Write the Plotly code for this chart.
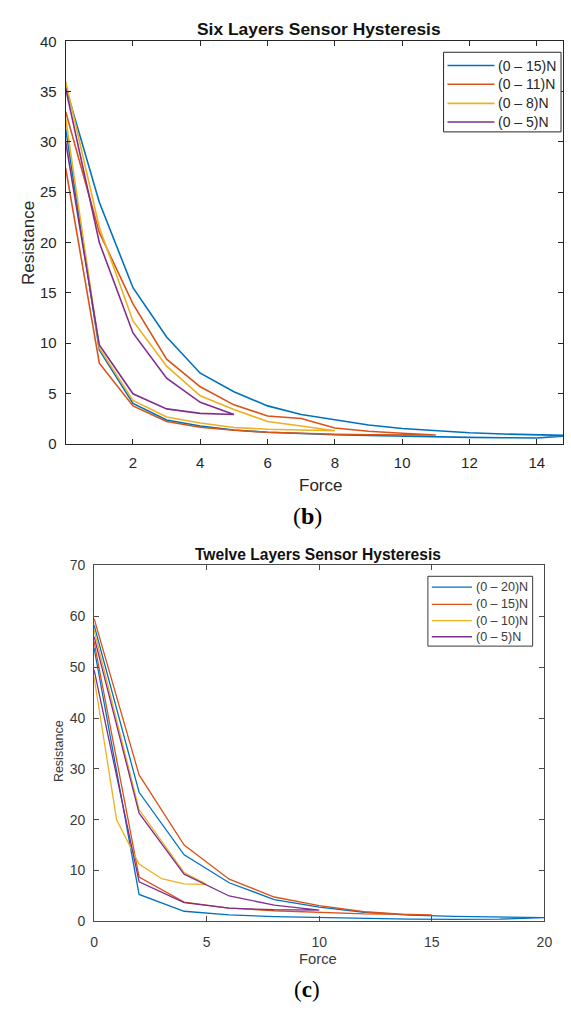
import plotly.graph_objects as go

W, H = 571, 1012

# ---- Six layers sensor: force (N) and resistance along each loading/unloading loop
six_labels = ["(0 – 15)N", "(0 – 11)N", "(0 – 8)N", "(0 – 5)N"]
six_force_15 = list(range(0, 16)) + list(range(14, -1, -1))
six_res_15 = [31.3, 9.3, 4.0, 2.35, 1.75, 1.35, 1.12, 0.98, 0.88, 0.8, 0.72, 0.66, 0.62, 0.58, 0.55, 0.8,
              0.86, 0.95, 1.07, 1.28, 1.5, 1.85, 2.35, 2.9, 3.75, 5.15, 7.0, 10.6, 15.5, 24.0, 35.5]
six_force_11 = list(range(0, 12)) + list(range(10, -1, -1))
six_res_11 = [27.4, 8.0, 3.75, 2.2, 1.62, 1.32, 1.12, 1.0, 0.93, 0.88, 0.85, 0.85,
              1.02, 1.22, 1.55, 2.5, 2.75, 3.85, 5.65, 8.4, 13.9, 21.0, 33.0]
six_force_8 = list(range(0, 9)) + list(range(7, -1, -1))
six_res_8 = [32.3, 9.5, 4.3, 2.65, 2.05, 1.6, 1.42, 1.32, 1.27,
             1.75, 2.2, 3.4, 4.75, 7.7, 12.2, 21.5, 36.0]
six_force_5 = list(range(0, 6)) + list(range(4, -1, -1))
six_res_5 = [30.0, 9.8, 4.95, 3.45, 3.0, 2.9,
             4.1, 6.5, 11.0, 20.0, 35.3]

# ---- Twelve layers sensor
twelve_labels = ["(0 – 20)N", "(0 – 15)N", "(0 – 10)N", "(0 – 5)N"]
twelve_force_20 = list(range(0, 21, 2)) + list(range(18, -1, -2))
twelve_res_20 = [53.8, 5.3, 2.0, 1.3, 0.95, 0.75, 0.6, 0.45, 0.4, 0.45, 0.75,
                 0.85, 1.0, 1.25, 1.8, 2.8, 4.3, 7.6, 13.1, 25.4, 58.3]
twelve_force_15 = [0, 2, 4, 6, 8, 10, 12, 14, 15, 14, 12, 10, 8, 6, 4, 2, 0]
twelve_res_15 = [55.0, 8.7, 3.8, 2.6, 2.1, 1.75, 1.5, 1.4, 1.3,
                 1.35, 1.9, 3.1, 4.8, 8.3, 15.0, 28.8, 59.6]
twelve_force_10 = [0, 1, 2, 3, 4, 5, 4, 2, 0]
twelve_res_10 = [48.0, 20.0, 11.3, 8.4, 7.4, 7.3, 9.6, 22.0, 57.3]
twelve_force_5 = [0, 2, 4, 6, 8, 10, 8, 6, 4, 2, 0]
twelve_res_5 = [49.5, 7.8, 3.7, 2.6, 2.3, 2.2, 3.2, 5.0, 9.3, 21.3, 56.0]

colors = ["#0072BD", "#D95319", "#EDB120", "#7E2F8E"]

six_series = [(six_force_15, six_res_15), (six_force_11, six_res_11),
              (six_force_8, six_res_8), (six_force_5, six_res_5)]
twelve_series = [(twelve_force_20, twelve_res_20), (twelve_force_15, twelve_res_15),
                 (twelve_force_10, twelve_res_10), (twelve_force_5, twelve_res_5)]

fig = go.Figure()
for (fx, ry), name, c in zip(six_series, six_labels, colors):
    fig.add_trace(go.Scatter(x=fx, y=ry, mode="lines", name=name, showlegend=False,
                             line=dict(color=c, width=1.6), xaxis="x", yaxis="y"))
for (fx, ry), name, c in zip(twelve_series, twelve_labels, colors):
    fig.add_trace(go.Scatter(x=fx, y=ry, mode="lines", name=name, showlegend=False,
                             line=dict(color=c, width=1.3), xaxis="x2", yaxis="y2"))


def px(x):
    return x / W


def py(y):
    return 1 - y / H


font = "Liberation Sans, Arial, sans-serif"
serif = "Liberation Serif, Times New Roman, serif"
axis_dark = "#262626"
axis_soft = "#4a4a4a"
text_soft = "#3a3a3a"

fig.update_layout(
    width=W, height=H, margin=dict(l=0, r=0, t=0, b=0),
    paper_bgcolor="white", plot_bgcolor="white",
    font=dict(family=font, color=axis_dark),
    showlegend=False,
    xaxis=dict(domain=[px(63), 1.0], range=[0, 14.78], tickvals=list(range(2, 15, 2)),
               showline=True, linecolor=axis_dark, linewidth=1, mirror="ticks",
               ticks="inside", ticklen=5, tickcolor=axis_dark, showgrid=False,
               zeroline=False, tickfont=dict(size=15, color=axis_dark),
               ticklabelstandoff=5, anchor="y"),
    yaxis=dict(domain=[py(442), py(33)], range=[0, 40], tickvals=list(range(0, 41, 5)),
               showline=True, linecolor=axis_dark, linewidth=1, mirror="ticks",
               ticks="inside", ticklen=5, tickcolor=axis_dark, showgrid=False,
               zeroline=False, tickfont=dict(size=15, color=axis_dark),
               ticklabelstandoff=5, anchor="x"),
    xaxis2=dict(domain=[px(92), px(552)], range=[0, 20], tickvals=[0, 5, 10, 15, 20],
                showline=True, linecolor=axis_soft, linewidth=1, mirror="ticks",
                ticks="inside", ticklen=5, tickcolor=axis_soft, showgrid=False,
                zeroline=False, tickfont=dict(size=14, color=text_soft),
                ticklabelstandoff=8, anchor="y2"),
    yaxis2=dict(domain=[py(928), py(566)], range=[0, 70], tickvals=list(range(0, 71, 10)),
                showline=True, linecolor=axis_soft, linewidth=1, mirror="ticks",
                ticks="inside", ticklen=5, tickcolor=axis_soft, showgrid=False,
                zeroline=False, tickfont=dict(size=14, color=text_soft),
                ticklabelstandoff=5, anchor="x2"),
)


def add_text(text, x, y, size, color, family=font, angle=0, xanchor="center"):
    fig.add_annotation(text=text, x=px(x), y=py(y), xref="paper", yref="paper",
                       xanchor=xanchor, yanchor="middle", showarrow=False,
                       textangle=angle, font=dict(size=size, color=color, family=family))


# titles, axis labels and panel tags
add_text("<b>Six Layers Sensor Hysteresis</b>", 322, 20, 17.4, "#111111")
add_text("Force", 323, 485, 17, axis_dark)
add_text("Resistance", 24.5, 238, 17, axis_dark, angle=-90)
add_text("(<b>b</b>)", 310, 516, 24, "#000000", family=serif)

add_text("<b>Twelve Layers Sensor Hysteresis</b>", 321, 555, 15.6, "#111111")
add_text("Force", 321, 966, 14.8, text_soft)
add_text("Resistance", 57, 755, 12.5, text_soft, angle=-90)
add_text("(<b>c</b>)", 310, 997, 23, "#000000", family=serif)


def add_legend(labels, box, rows, line_x, text_x, size, border, width):
    x0, y0, x1, y1 = box
    fig.add_shape(type="rect", xref="paper", yref="paper",
                  x0=px(x0), x1=px(x1), y0=py(y1), y1=py(y0),
                  line=dict(color=border, width=1), fillcolor="white", layer="above")
    for label, c, ry in zip(labels, colors, rows):
        fig.add_shape(type="line", xref="paper", yref="paper",
                      x0=px(line_x[0]), x1=px(line_x[1]), y0=py(ry), y1=py(ry),
                      line=dict(color=c, width=width), layer="above")
        add_text(label, text_x, ry, size, border, xanchor="left")


add_legend(six_labels, (449, 44, 569, 125), [57.5, 76.5, 96, 115], (453, 501), 503, 14,
           axis_dark, 1.6)
add_legend(twelve_labels, (433, 577, 540, 648), [588, 605.5, 622, 638.5], (437, 478), 480, 12.5,
           text_soft, 1.3)

fig.write_html("out.html")
